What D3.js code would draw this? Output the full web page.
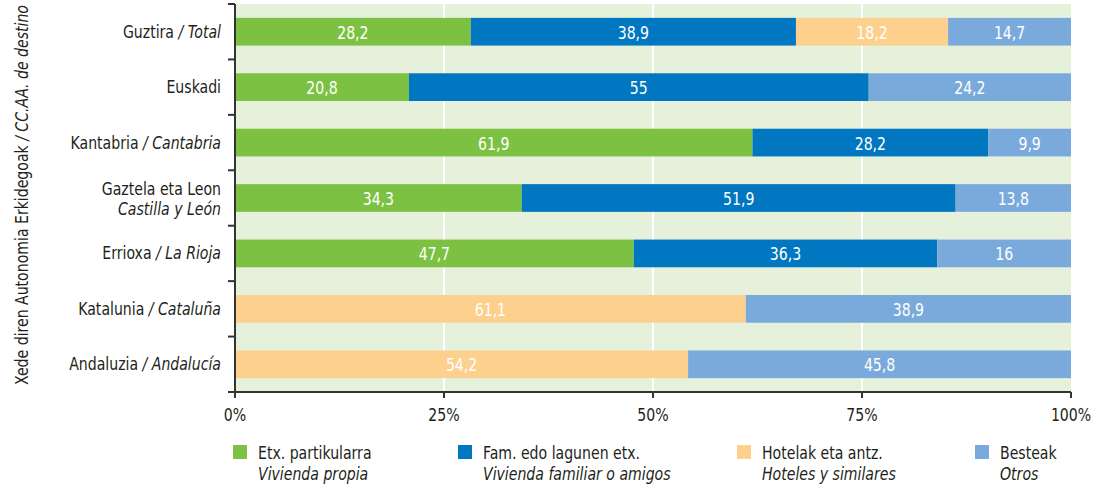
<!DOCTYPE html>
<html>
<head>
<meta charset="utf-8">
<script src="https://cdn.jsdelivr.net/npm/d3@7"></script>
<style>
  body { margin: 0; background: #fff; }
  svg text { font-family: "Liberation Sans Narrow", "DejaVu Sans Condensed", sans-serif; font-stretch: condensed; fill: #231f20; }
</style>
</head>
<body>
<svg id="chart"></svg>
<script>
var width = 1104;
var height = 486;

// categories: [basque, spanish]
var regions = ["Guztira", "Euskadi", "Kantabria", "Gaztela eta Leon", "Errioxa", "Katalunia", "Andaluzia"];
var regionsEs = ["Total", "", "Cantabria", "Castilla y León", "La Rioja", "Cataluña", "Andalucía"];

var seriesKeys = ["propia", "familiar", "hoteles", "otros"];
var seriesEu = ["Etx. partikularra", "Fam. edo lagunen etx.", "Hotelak eta antz.", "Besteak"];
var seriesEs = ["Vivienda propia", "Vivienda familiar o amigos", "Hoteles y similares", "Otros"];
var colors = ["#7dc142", "#0077c0", "#fdd08e", "#7aaadc"];

var propia   = [28.2, 20.8, 61.9, 34.3, 47.7, 0, 0];
var familiar = [38.9, 55, 28.2, 51.9, 36.3, 0, 0];
var hoteles  = [18.2, 0, 0, 0, 0, 61.1, 54.2];
var otros    = [14.7, 24.2, 9.9, 13.8, 16, 38.9, 45.8];

var xTicks = [0, 25, 50, 75, 100];

var table = regions.map(function (r, i) {
    return {region: r, propia: propia[i], familiar: familiar[i], hoteles: hoteles[i], otros: otros[i]};
});

var margin = {left: 235, right: 33, top: 4, bottom: 94};
var squeeze = 0.87; // narrow the font like the original condensed face

var svg = d3.select("#chart")
    .attr("width", width)
    .attr("height", height);

// text placed with a horizontal squeeze
function place(sel, px, py) {
    return sel.attr("transform", "translate(" + px + "," + py + ") scale(" + squeeze + ",1)");
}

var x = d3.scaleLinear()
    .domain([0, 100])
    .range([margin.left, width - margin.right]);

var y = d3.scaleBand()
    .domain(regions)
    .range([margin.top, height - margin.bottom])
    .paddingInner(0.5)
    .paddingOuter(0.25);

// background
svg.append("rect")
    .attr("x", x(0))
    .attr("y", margin.top)
    .attr("width", x(100) - x(0))
    .attr("height", height - margin.bottom - margin.top)
    .style("fill", "#e6f1dc");

// grid
svg.selectAll(".grid")
    .data([25, 50, 75])
    .enter()
    .append("line")
    .attr("x1", function (d) { return x(d); })
    .attr("x2", function (d) { return x(d); })
    .attr("y1", margin.top)
    .attr("y2", height - margin.bottom)
    .style("stroke", "#fff")
    .style("stroke-width", 2);

var stack = d3.stack().keys(seriesKeys);
var layers = stack(table);

var fmt = function (v) { return String(v).replace(".", ","); };

layers.forEach(function (layer, k) {
    var g = svg.append("g");
    var segs = layer.filter(function (d) { return d[1] - d[0] > 0; });
    g.selectAll("rect")
        .data(segs)
        .enter()
        .append("rect")
        .attr("x", function (d) { return x(d[0]); })
        .attr("y", function (d) { return y(d.data.region); })
        .attr("width", function (d) { return x(d[1]) - x(d[0]); })
        .attr("height", y.bandwidth())
        .style("fill", colors[k]);
    g.selectAll("text")
        .data(segs)
        .enter()
        .append("text")
        .attr("transform", function (d) {
            return "translate(" + (x(d[0]) + x(d[1])) / 2 + "," + (y(d.data.region) + y.bandwidth() / 2 + 7) + ") scale(" + squeeze + ",1)";
        })
        .attr("text-anchor", "middle")
        .style("font-size", "18px")
        .style("fill", "#fff")
        .text(function (d) { return fmt(+(d[1] - d[0]).toFixed(1)); });
});

// y axis line and ticks at band edges
var axisColor = "#333";
svg.append("line")
    .attr("x1", x(0)).attr("x2", x(0))
    .attr("y1", margin.top).attr("y2", height - margin.bottom + 6)
    .style("stroke", axisColor).style("stroke-width", 2);
var edges = regions.map(function (r) { return y(r) - y.step() * y.paddingInner() / 2; });
edges.push(height - margin.bottom);
svg.selectAll(".ytick")
    .data(edges)
    .enter()
    .append("line")
    .attr("x1", x(0) - 7).attr("x2", x(0))
    .attr("y1", function (d) { return d; })
    .attr("y2", function (d) { return d; })
    .style("stroke", axisColor).style("stroke-width", 2);

// x axis
svg.append("line")
    .attr("x1", x(0)).attr("x2", x(100))
    .attr("y1", height - margin.bottom).attr("y2", height - margin.bottom)
    .style("stroke", axisColor).style("stroke-width", 2);
svg.selectAll(".xtick")
    .data(xTicks)
    .enter()
    .append("line")
    .attr("x1", function (d) { return x(d); })
    .attr("x2", function (d) { return x(d); })
    .attr("y1", height - margin.bottom)
    .attr("y2", height - margin.bottom + 6)
    .style("stroke", axisColor).style("stroke-width", 2);
svg.selectAll(".xlabel")
    .data(xTicks)
    .enter()
    .append("text")
    .attr("transform", function (d) {
        return "translate(" + x(d) + "," + (height - margin.bottom + 29) + ") scale(" + squeeze + ",1)";
    })
    .attr("text-anchor", "middle")
    .style("font-size", "18px")
    .text(function (d) { return d + "%"; });

// category labels
regions.forEach(function (r, i) {
    var cy = y(r) + y.bandwidth() / 2;
    var t = svg.append("text")
        .attr("text-anchor", "end")
        .style("font-size", "18px");
    if (r === "Gaztela eta Leon") {
        place(t, 221, cy - 3);
        t.append("tspan").attr("x", 0).attr("y", 0).text(r);
        t.append("tspan").attr("x", 0).attr("y", 20).style("font-style", "italic").text(regionsEs[i]);
    } else {
        place(t, 221, cy + 6);
        t.append("tspan").text(r);
        if (regionsEs[i]) {
            t.append("tspan").style("font-style", "italic").text(" / " + regionsEs[i]);
        }
    }
});

// y title
var yt = svg.append("text")
    .attr("transform", "translate(28," + (margin.top + (height - margin.bottom - margin.top) / 2 - 3) + ") rotate(-90) scale(" + squeeze + ",1)")
    .attr("text-anchor", "middle")
    .style("font-size", "18px");
yt.append("tspan").text("Xede diren Autonomia Erkidegoak ");
yt.append("tspan").style("font-style", "italic").text("/ CC.AA. de destino");

// legend
var legendX = [233, 458, 737, 975];
seriesKeys.forEach(function (k, i) {
    var g = svg.append("g").attr("transform", "translate(" + legendX[i] + ",445)");
    g.append("rect").attr("width", 14).attr("height", 14).style("fill", colors[i]);
    place(g.append("text"), 25, 14).style("font-size", "18px").text(seriesEu[i]);
    place(g.append("text"), 25, 35).style("font-size", "18px").style("font-style", "italic").text(seriesEs[i]);
});
</script>
</body>
</html>
